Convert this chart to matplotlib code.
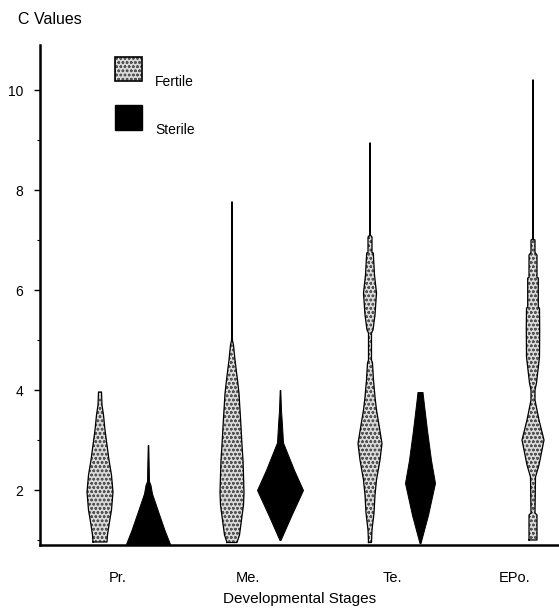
import numpy as np
import matplotlib.pyplot as plt
from matplotlib.patches import Rectangle

plt.rcParams['font.family'] = ['Liberation Sans', 'DejaVu Sans']
plt.rcParams['hatch.linewidth'] = 0.7

stages = ["Pr.", "Me.", "Te.", "EPo."]

# kite profiles: C value levels and half-width (relative frequency) at each level
pr_fert_c = [0.96, 1.1, 1.3, 1.6, 1.96, 2.3, 2.6, 2.9, 3.2, 3.5, 3.7, 3.96]
pr_fert_w = [7, 7.5, 9, 11.5, 13, 11.5, 9, 7, 5, 3.5, 2, 1.5]
pr_ster_c = [0.92, 1.2, 1.53, 1.93, 2.1, 2.18, 2.9]
pr_ster_w = [22, 16.5, 10.8, 4, 2.5, 1.0, 0.3]

me_fert_c = [0.95, 1.1, 1.4, 1.7, 1.95, 2.3, 2.6, 2.9, 3.27, 3.6, 3.93, 4.2, 4.6, 4.8, 4.9, 5.0, 7.76]
me_fert_w = [5, 7.5, 9.5, 11.5, 12, 11.5, 11, 10, 9, 8, 7, 5.5, 3, 2, 1.5, 0.4, 0.3]
me_ster_c = [1.0, 1.5, 2.0, 2.4, 2.85, 2.95, 3.3, 3.6, 4.0]
me_ster_w = [0.5, 11.5, 23, 14, 5, 3, 2.0, 1.0, 0.3]

te_fert_c = [0.95, 1.2, 1.54, 1.9, 2.2, 2.6, 2.93, 3.3, 3.6, 3.86, 4.2, 4.54, 4.6, 5.14,
             5.2, 5.5, 5.94, 6.3, 6.74, 6.75, 7.06, 7.1, 8.94]
te_fert_w = [1.5, 2, 4, 5, 6.5, 10, 12, 9, 6.5, 5, 3.5, 2.5, 1.5, 1.5,
             3, 5, 6.5, 4.5, 3.3, 2, 2, 0.3, 0.3]
te_ster_c = [0.94, 1.5, 2.14, 2.6, 3.2, 3.7, 3.96]
te_ster_w = [0.5, 8, 15, 11, 7, 4, 2.5]

epo_fert_c = [1.0, 1.5, 1.54, 2.26, 2.5, 3.0, 3.4, 3.8, 4.0, 4.14, 4.66, 5.2, 5.64, 5.65,
              6.24, 6.25, 6.7, 6.75, 7.0, 7.02, 10.2]
epo_fert_w = [4, 4, 2, 2.5, 6, 11, 6, 2, 2, 3.5, 6.5, 6.7, 6.5, 5.3,
              5.3, 4, 4, 2, 2, 0.3, 0.3]

fertile = [(pr_fert_c, pr_fert_w), (me_fert_c, me_fert_w),
           (te_fert_c, te_fert_w), (epo_fert_c, epo_fert_w)]
sterile = [(pr_ster_c, pr_ster_w), (me_ster_c, me_ster_w), (te_ster_c, te_ster_w)]

fert_pos = [60, 192, 330, 493]
ster_pos = [108, 240, 380]
label_pos = [78, 208, 352, 475]

FERT_FACE = "#dadada"
FERT_DOTS = "#555555"

fig = plt.figure(figsize=(5.59, 6.09), dpi=100)
ax = fig.add_axes([40 / 559, 64 / 609, 519 / 559, 500 / 609])


def kite(ax, pos, c, w, kind):
    c = np.array(c)
    w = np.array(w)
    if kind == "fertile":
        ax.fill_betweenx(c, pos - w, pos + w, facecolor=FERT_FACE, edgecolor=FERT_DOTS,
                         hatch="oooo", linewidth=0, zorder=2)
        xs = np.concatenate([pos - w, (pos + w)[::-1]])
        ys = np.concatenate([c, c[::-1]])
        ax.plot(np.append(xs, xs[0]), np.append(ys, ys[0]), color="black", lw=0.9, zorder=3)
    else:
        ax.fill_betweenx(c, pos - w, pos + w, facecolor="black", edgecolor="black",
                         linewidth=0.7, zorder=2)


for pos, (c, w) in zip(fert_pos, fertile):
    kite(ax, pos, c, w, "fertile")
for pos, (c, w) in zip(ster_pos, sterile):
    kite(ax, pos, c, w, "sterile")

ax.set_xlim(0, 519)
ax.set_ylim(0.9, 10.9)
ax.spines["top"].set_visible(False)
ax.spines["right"].set_visible(False)
ax.spines["left"].set_linewidth(1.8)
ax.spines["bottom"].set_linewidth(1.8)

ax.set_yticks([2, 4, 6, 8, 10])
ax.set_yticks(range(1, 11), minor=True)
ax.tick_params(axis="y", which="major", length=4, width=1, pad=8, labelsize=10)
ax.tick_params(axis="y", which="minor", length=2, width=0.8)
ax.set_xticks(label_pos, stages)
ax.tick_params(axis="x", length=0, pad=19, labelsize=10.5)
ax.set_xlabel("Developmental Stages", fontsize=11)
ax.xaxis.set_label_coords(0.5, -0.094)

fig.text(18 / 559, 1 - 20 / 609, "C Values", fontsize=11.5, va="center", ha="left")

# legend
ax.add_patch(Rectangle((0.1445, 0.928), 0.052, 0.048, transform=ax.transAxes,
                       facecolor=FERT_FACE, edgecolor=FERT_DOTS, hatch="oooo", lw=0, clip_on=False))
ax.add_patch(Rectangle((0.1445, 0.928), 0.052, 0.048, transform=ax.transAxes,
                       facecolor="none", edgecolor="black", lw=1.2, clip_on=False))
ax.add_patch(Rectangle((0.1445, 0.83), 0.052, 0.05, transform=ax.transAxes,
                       facecolor="black", edgecolor="black", lw=1, clip_on=False))
ax.text(0.222, 0.926, "Fertile", transform=ax.transAxes, fontsize=10, va="center")
ax.text(0.222, 0.83, "Sterile", transform=ax.transAxes, fontsize=10, va="center")

fig.savefig("out.png", dpi=100)
